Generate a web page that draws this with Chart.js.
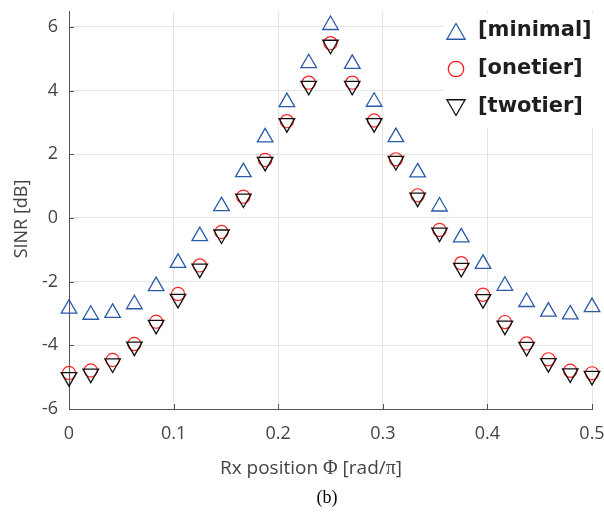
<!DOCTYPE html>
<html><head><meta charset="utf-8">
<script src="https://cdn.jsdelivr.net/npm/chart.js@4"></script>
<style>html,body{margin:0;padding:0;background:#fff}#wrap{position:relative;width:604px;height:521px}</style>
</head><body><div id="wrap"><canvas id="c"></canvas></div>
<script>
const xPositions = [0, 0.0208, 0.0417, 0.0625, 0.0833, 0.1042, 0.125, 0.1458, 0.1667, 0.1875, 0.2083, 0.2292, 0.25,
  0.2708, 0.2917, 0.3125, 0.3333, 0.3542, 0.375, 0.3958, 0.4167, 0.4375, 0.4583, 0.4792, 0.5];
const minimal = [-2.85, -3.04, -2.98, -2.71, -2.14, -1.41, -0.57, 0.37, 1.44, 2.53, 3.64, 4.86, 6.06,
  4.84, 3.65, 2.54, 1.43, 0.36, -0.61, -1.44, -2.13, -2.64, -2.94, -3.03, -2.80];
const onetier = [-4.87, -4.79, -4.46, -3.96, -3.26, -2.39, -1.49, -0.44, 0.67, 1.82, 3.04, 4.25, 5.49,
  4.25, 3.06, 1.84, 0.71, -0.38, -1.42, -2.41, -3.27, -3.94, -4.44, -4.80, -4.88];
const twotier = [-5.00, -4.89, -4.57, -4.04, -3.36, -2.54, -1.59, -0.52, 0.61, 1.76, 2.98, 4.15, 5.44,
  4.15, 2.98, 1.79, 0.64, -0.46, -1.57, -2.55, -3.38, -4.05, -4.56, -4.88, -4.96];
const seriesNames = ['[minimal]', '[onetier]', '[twotier]'];
const xTicks = [0, 0.1, 0.2, 0.3, 0.4, 0.5];
const xTickLabels = ['0', '0.1', '0.2', '0.3', '0.4', '0.5'];
const yTicks = [-6, -4, -2, 0, 2, 4, 6];
const yTickLabels = ['-6', '-4', '-2', '0', '2', '4', '6'];
const xTitleParts = [['Rx position ', 'sans'], ['\u03A6', 'serif'], [' [rad/', 'sans'], ['\u03C0', 'serif'], [']', 'sans']];
const yTitle = 'SINR [dB]';
const caption = '(b)';

const BLUE = '#2a5aa8', RED = '#ff2222', BLACK = '#111111';
const toPts = arr => arr.map((v, i) => ({x: xPositions[i], y: v}));

function drawMarker(ctx, style, x, y, r, color) {
  ctx.strokeStyle = color; ctx.lineWidth = 1.3;
  ctx.beginPath();
  if (style === 'circle') { ctx.arc(x, y, r, 0, Math.PI * 2); }
  else {
    const s = style === 'up' ? 1 : -1;
    ctx.moveTo(x, y - s * r);
    ctx.lineTo(x + r * Math.sin(2 * Math.PI / 3), y + s * r / 2);
    ctx.lineTo(x - r * Math.sin(2 * Math.PI / 3), y + s * r / 2);
    ctx.closePath();
  }
  ctx.stroke();
}

function zeroPad(s) { s.paddingLeft = 0; s.paddingRight = 0; s.paddingTop = 0; s.paddingBottom = 0; }

const decor = {
  id: 'decor',
  beforeDatasetsDraw(chart) {
    const {ctx, chartArea: a, scales: {x, y}} = chart;
    ctx.save();
    ctx.strokeStyle = '#555'; ctx.lineWidth = 1;
    ctx.beginPath();
    yTicks.forEach(v => { const py = Math.round(y.getPixelForValue(v)) + 0.5; ctx.moveTo(a.left, py); ctx.lineTo(a.left + 5, py); });
    xTicks.forEach(v => { const px = Math.round(x.getPixelForValue(v)) + 0.5; ctx.moveTo(px, a.bottom); ctx.lineTo(px, a.bottom - 5); });
    ctx.stroke();
    ctx.fillStyle = '#fff';
    ctx.fillRect(443, 14, 161, 114);
    const styles = ['up', 'circle', 'down'];
    const colors = [BLUE, RED, BLACK];
    const rows = [30, 68, 106];
    styles.forEach((s, i) => {
      const r = s === 'circle' ? 7.7 : 10.5;
      const cy = s === 'up' ? rows[i] + 4 : (s === 'down' ? rows[i] - 1 : rows[i] + 1);
      drawMarker(ctx, s, 456, cy, r, colors[i]);
      ctx.fillStyle = '#1e1e1e';
      ctx.font = 'bold 21px "DejaVu Sans"';
      ctx.textAlign = 'left'; ctx.textBaseline = 'middle';
      ctx.fillText(seriesNames[i], 478, rows[i] + 1);
    });
    ctx.restore();
  },
  afterDraw(chart) {
    const {ctx} = chart;
    ctx.save();
    ctx.fillStyle = '#444';
    const fonts = {sans: '19px "Open Sans"', serif: '20px "Liberation Serif"'};
    let total = 0;
    xTitleParts.forEach(([t, f]) => { ctx.font = fonts[f]; total += ctx.measureText(t).width; });
    let cx = 311 - total / 2;
    ctx.textBaseline = 'alphabetic'; ctx.textAlign = 'left';
    xTitleParts.forEach(([t, f]) => { ctx.font = fonts[f]; ctx.fillText(t, cx, 474); cx += ctx.measureText(t).width; });
    ctx.translate(22, 219);
    ctx.rotate(-Math.PI / 2);
    ctx.font = '18px "Open Sans"'; ctx.textAlign = 'center'; ctx.textBaseline = 'middle';
    ctx.fillText(yTitle, 0, 0);
    ctx.setTransform(1, 0, 0, 1, 0, 0);
    ctx.fillStyle = '#000';
    ctx.font = '18px "Liberation Serif"'; ctx.textAlign = 'center'; ctx.textBaseline = 'middle';
    ctx.fillText(caption, 327, 498);
    ctx.restore();
  }
};

new Chart(document.getElementById('c'), {
  type: 'scatter',
  data: {
    datasets: [
      {label: seriesNames[0], data: toPts(minimal), pointStyle: 'triangle', pointRadius: 9, pointHoverRadius: 9,
        borderColor: BLUE, backgroundColor: 'rgba(0,0,0,0)', pointBorderWidth: 1.3, order: 2, clip: false},
      {label: seriesNames[1], data: toPts(onetier), pointStyle: 'circle', pointRadius: 6.6, pointHoverRadius: 6.6,
        borderColor: RED, backgroundColor: 'rgba(0,0,0,0)', pointBorderWidth: 1.2, order: 1, clip: false},
      {label: seriesNames[2], data: toPts(twotier), pointStyle: 'triangle', pointRotation: 180, pointRadius: 9, pointHoverRadius: 9,
        borderColor: BLACK, backgroundColor: 'rgba(0,0,0,0)', pointBorderWidth: 1.3, order: 0, clip: false}
    ]
  },
  options: {
    responsive: true, maintainAspectRatio: false, animation: false,
    events: [],
    layout: {padding: {left: 0, right: 12, top: 11, bottom: 0}},
    plugins: {legend: {display: false}, tooltip: {enabled: false}, title: {display: false}},
    scales: {
      x: {
        type: 'linear', min: 0, max: 0.5,
        afterBuildTicks: s => { s.ticks = xTicks.map(v => ({value: v})); },
        afterFit: s => { s.height = 112; zeroPad(s); },
        grid: {color: '#e4e4e4', lineWidth: 1, drawTicks: false},
        border: {display: true, color: '#555', width: 1},
        ticks: {padding: 14, color: '#444', font: {family: 'Open Sans', size: 18},
          callback: (v, i) => xTickLabels[i], maxRotation: 0, autoSkip: false}
      },
      y: {
        type: 'linear', min: -6, max: 6.5,
        afterBuildTicks: s => { s.ticks = yTicks.map(v => ({value: v})); },
        afterFit: s => { s.width = 69; zeroPad(s); },
        grid: {color: '#e4e4e4', lineWidth: 1, drawTicks: false},
        border: {display: true, color: '#555', width: 1},
        ticks: {padding: 11, color: '#444', font: {family: 'Open Sans', size: 18},
          callback: (v, i) => yTickLabels[i], autoSkip: false}
      }
    }
  },
  plugins: [decor]
});
</script></body></html>
